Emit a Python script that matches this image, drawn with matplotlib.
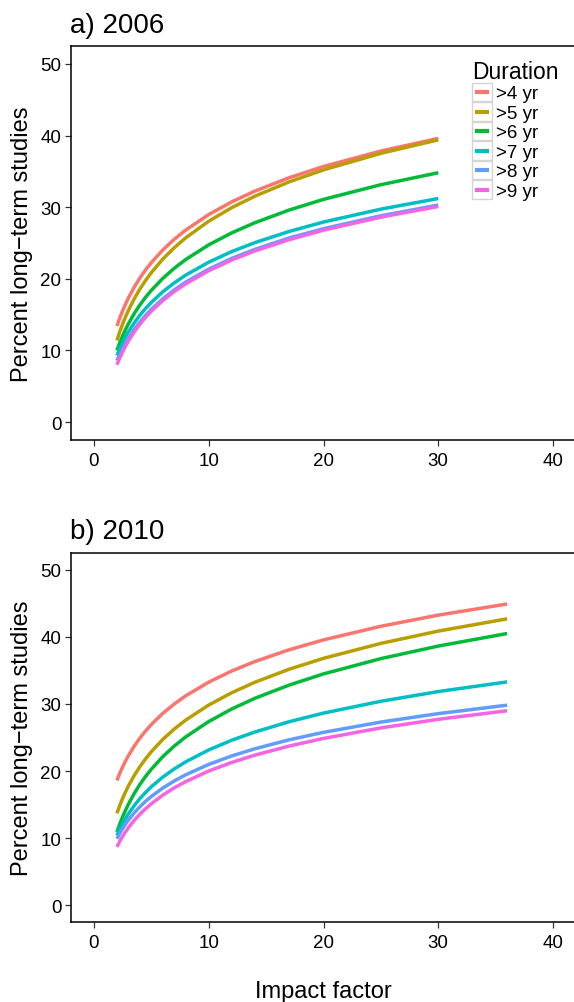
import matplotlib
matplotlib.use("Agg")
import matplotlib.pyplot as plt
from matplotlib.legend_handler import HandlerLine2D
from matplotlib.lines import Line2D
from matplotlib.patches import Rectangle

plt.rcParams["font.family"] = ["Liberation Sans", "DejaVu Sans"]

durations = [">4 yr", ">5 yr", ">6 yr", ">7 yr", ">8 yr", ">9 yr"]
colors = ["#F8766D", "#B79F00", "#00BA38", "#00BFC4", "#619CFF", "#F564E3"]

# a) 2006 -- impact factor vs percent long-term studies (read off the curves)
x_2006 = [2, 2.25, 2.5, 2.75, 3, 3.5, 4, 4.5, 5, 6, 7, 8, 10, 12, 14, 17, 20, 25, 30]
pct_2006 = [
    [13.4, 14.54, 15.56, 16.48, 17.32, 18.81, 20.11, 21.25, 22.27, 24.03, 25.52,
     26.81, 28.97, 30.74, 32.23, 34.11, 35.68, 37.84, 39.6],
    [11.4, 12.62, 13.71, 14.69, 15.59, 17.19, 18.57, 19.78, 20.87, 22.76, 24.35,
     25.73, 28.04, 29.93, 31.52, 33.53, 35.21, 37.52, 39.4],
    [10.0, 11.08, 12.04, 12.92, 13.71, 15.13, 16.35, 17.43, 18.39, 20.06, 21.48,
     22.7, 24.74, 26.41, 27.82, 29.6, 31.09, 33.14, 34.81],
    [9.3, 10.25, 11.11, 11.88, 12.58, 13.83, 14.91, 15.86, 16.71, 18.19, 19.44,
     20.52, 22.32, 23.8, 25.04, 26.61, 27.93, 29.73, 31.21],
    [8.6, 9.4, 10.2, 10.95, 11.65, 12.9, 13.95, 14.9, 15.75, 17.2, 18.45,
     19.55, 21.35, 22.85, 24.1, 25.7, 27.0, 28.8, 30.3],
    [8.0, 8.96, 9.82, 10.6, 11.31, 12.57, 13.66, 14.62, 15.48, 16.96, 18.22,
     19.31, 21.13, 22.62, 23.88, 25.46, 26.79, 28.61, 30.1],
]

# b) 2010
x_2010 = [2, 2.25, 2.5, 2.75, 3, 3.5, 4, 4.5, 5, 6, 7, 8, 10, 12, 14, 17, 20, 25, 30, 36]
pct_2010 = [
    [18.6, 19.67, 20.63, 21.5, 22.29, 23.69, 24.91, 25.98, 26.94, 28.6, 30.0,
     31.22, 33.25, 34.91, 36.31, 38.07, 39.55, 41.58, 43.24, 44.9],
    [13.7, 14.88, 15.94, 16.89, 17.77, 19.31, 20.65, 21.83, 22.89, 24.72, 26.27,
     27.6, 29.84, 31.67, 33.22, 35.17, 36.8, 39.03, 40.86, 42.69],
    [10.9, 12.11, 13.18, 14.16, 15.05, 16.63, 18.0, 19.2, 20.28, 22.15, 23.73,
     25.1, 27.38, 29.25, 30.83, 32.81, 34.48, 36.76, 38.63, 40.5],
    [10.4, 11.33, 12.17, 12.92, 13.61, 14.83, 15.89, 16.82, 17.66, 19.1, 20.32,
     21.38, 23.15, 24.59, 25.81, 27.35, 28.64, 30.4, 31.85, 33.29],
    [9.9, 10.71, 11.44, 12.09, 12.69, 13.76, 14.68, 15.49, 16.21, 17.47, 18.53,
     19.45, 20.99, 22.25, 23.31, 24.65, 25.77, 27.3, 28.56, 29.82],
    [8.7, 9.53, 10.27, 10.94, 11.55, 12.63, 13.57, 14.39, 15.13, 16.41, 17.5,
     18.43, 20.0, 21.28, 22.36, 23.72, 24.86, 26.43, 27.71, 28.99],
]

x_ticks = [0, 10, 20, 30, 40]
y_ticks = [0, 10, 20, 30, 40, 50]


class BoxedLine(HandlerLine2D):
    """legend key drawn as a grey-bordered box with the line inside"""

    def create_artists(self, legend, orig_handle, xdescent, ydescent,
                       width, height, fontsize, trans):
        box = Rectangle((-xdescent, -ydescent), width, height, facecolor="white",
                        edgecolor="#d4d4d4", linewidth=1.0, transform=trans)
        y = -ydescent + height / 2
        line = Line2D([-xdescent + 2, -xdescent + width - 2], [y, y],
                      color=orig_handle.get_color(), linewidth=3.0,
                      solid_capstyle="butt", transform=trans)
        return [box, line]


def style_axes(ax):
    ax.set_xlim(-2, 42)
    ax.set_ylim(-2.5, 52.5)
    ax.set_xticks(x_ticks)
    ax.set_yticks(y_ticks)
    for s in ax.spines.values():
        s.set_linewidth(1.1)
        s.set_color("black")
    ax.tick_params(axis="both", direction="out", length=4, width=0.9,
                   labelsize=13.5, colors="#333333", labelcolor="black")
    ax.tick_params(axis="x", pad=5)
    ax.tick_params(axis="y", pad=3)
    ax.set_ylabel("Percent long\u2212term studies", fontsize=17, labelpad=5)


fig = plt.figure(figsize=(5.74, 10.03), dpi=100)
W, H = 574, 1003
ax1 = fig.add_axes([71 / W, 1 - 441 / H, 505 / W, 394 / H])
ax2 = fig.add_axes([71 / W, 1 - 923 / H, 505 / W, 369 / H])

for ax, xs, series in [(ax1, x_2006, pct_2006), (ax2, x_2010, pct_2010)]:
    for label, color, ys in zip(durations, colors, series):
        ax.plot(xs, ys, color=color, linewidth=2.5, label=label,
                solid_capstyle="butt", solid_joinstyle="round")
    style_axes(ax)

fig.text(70 / W, 1 - 33 / H, "a) 2006", fontsize=20, va="baseline", ha="left")
fig.text(70 / W, 1 - 539 / H, "b) 2010", fontsize=20, va="baseline", ha="left")
fig.text(323 / W, 1 - 998 / H, "Impact factor", fontsize=17, va="baseline", ha="center")

handles, labels = ax1.get_legend_handles_labels()
leg = ax1.legend(handles, labels, title="Duration", loc="upper left",
                 bbox_to_anchor=(472 / W, 1 - 61 / H), bbox_transform=fig.transFigure,
                 frameon=False, fontsize=13.5, title_fontsize=16.5,
                 handlelength=1.07, handleheight=1.12, labelspacing=0.0,
                 handletextpad=0.2, borderpad=0.0, borderaxespad=0.0,
                 alignment="left", handler_map={Line2D: BoxedLine()})

fig.savefig("out.png", dpi=100)
